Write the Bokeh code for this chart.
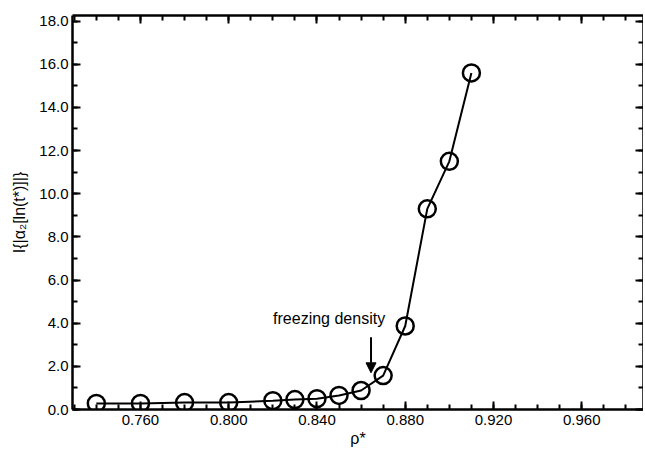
from bokeh.plotting import figure
from bokeh.models import (Range1d, LinearAxis, NumeralTickFormatter, CustomJSTickFormatter,
                          Arrow, NormalHead, Label, SingleIntervalTicker)
from bokeh.embed import file_html
from bokeh.resources import INLINE

rho = [0.74, 0.76, 0.78, 0.80, 0.82, 0.83, 0.84, 0.85, 0.86, 0.87, 0.88, 0.89, 0.90, 0.91]
integral = [0.28, 0.28, 0.32, 0.32, 0.41, 0.46, 0.50, 0.65, 0.88, 1.57, 3.87, 9.3, 11.5, 15.6]

annot_text = "freezing density"
annot_x, annot_y = 0.8455, 4.2
arrow_x, arrow_y0, arrow_y1 = 0.8645, 3.35, 1.7

FONT = "Liberation Sans"

p = figure(frame_width=571, frame_height=394, output_backend="svg", toolbar_location=None,
           x_range=Range1d(0.7292, 0.988), y_range=Range1d(0, 18.26),
           min_border_left=72, min_border_right=0, min_border_top=15, min_border_bottom=42)
p.outline_line_color = None
p.grid.visible = False
p.background_fill_color = "white"
p.border_fill_color = "white"

xt = SingleIntervalTicker(interval=0.04, num_minor_ticks=4)
yt = SingleIntervalTicker(interval=2, num_minor_ticks=2)

def style(ax):
    ax.axis_line_width = 2.5
    ax.major_tick_line_width = 2
    ax.minor_tick_line_width = 2
    ax.major_tick_in = 8
    ax.major_tick_out = 0
    ax.minor_tick_in = 5
    ax.minor_tick_out = 0
    ax.major_label_text_font = FONT
    ax.major_label_text_font_size = "15px"
    ax.major_label_text_color = "black"
    ax.axis_label_text_font = FONT
    ax.axis_label_text_font_size = "16px"
    ax.axis_label_text_font_style = "normal"
    ax.axis_label_text_color = "black"

p.xaxis.ticker = xt
p.yaxis.ticker = yt
p.xaxis.formatter = NumeralTickFormatter(format="0.000")
p.yaxis.formatter = NumeralTickFormatter(format="0.0")
p.xaxis.axis_label = "ρ*"
p.yaxis.axis_label = "I{|α₂[ln(t*)]|}"
p.xaxis.axis_label_standoff = 2
p.yaxis.axis_label_standoff = 8
p.xaxis.major_label_standoff = 5
p.yaxis.major_label_standoff = 4
for ax in p.xaxis + p.yaxis:
    style(ax)

blank = CustomJSTickFormatter(code="return ''")
top = LinearAxis(ticker=SingleIntervalTicker(interval=0.04, num_minor_ticks=4), formatter=blank)
right = LinearAxis(ticker=SingleIntervalTicker(interval=2, num_minor_ticks=2), formatter=blank)
style(top)
style(right)
top.major_label_text_font_size = "0px"
right.major_label_text_font_size = "0px"
top.major_label_standoff = 0
right.major_label_standoff = 0
top.axis_label_standoff = 0
right.axis_label_standoff = 0
p.add_layout(top, "above")
p.add_layout(right, "right")

p.line(rho, integral, line_color="black", line_width=2)
p.scatter(rho, integral, marker="circle", size=17, fill_color=None,
          line_color="black", line_width=2.5)

p.add_layout(Label(x=annot_x, y=annot_y, text=annot_text, text_font=FONT,
                   text_font_size="16px", text_align="center", text_baseline="middle",
                   text_color="black"))
p.add_layout(Arrow(x_start=arrow_x, y_start=arrow_y0, x_end=arrow_x, y_end=arrow_y1,
                   line_width=2, line_color="black",
                   end=NormalHead(size=10, fill_color="black", line_color="black")))

open("out.html", "w").write(file_html(p, INLINE))
